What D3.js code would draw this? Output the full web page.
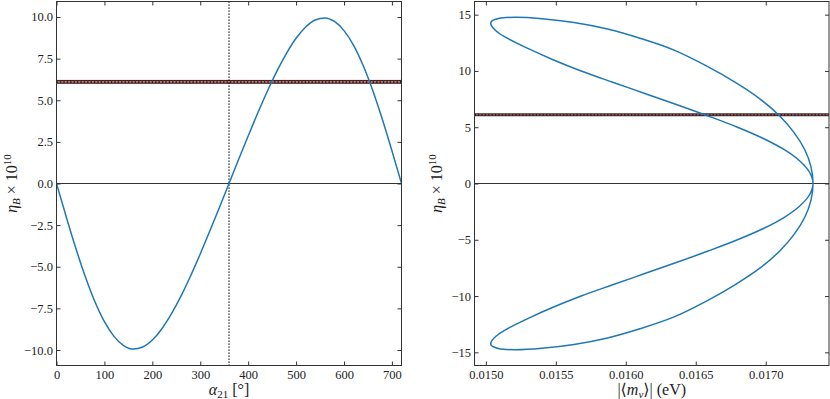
<!DOCTYPE html>
<html>
<head>
<meta charset="utf-8">
<script src="https://cdn.jsdelivr.net/npm/d3@7"></script>
<style>
  body { margin: 0; background: #fff; }
  svg { display: block; font-family: "Liberation Serif", "DejaVu Serif", serif; }
  .tick text { font-family: "Liberation Serif", "DejaVu Serif", serif; font-size: 12.5px; fill: #222; }
  .tick line { stroke: #333; }
</style>
</head>
<body>
<div id="chart"></div>
<script>
// left panel: eta_B vs alpha_21
const alphaDeg = [0, 20, 40, 60, 80, 100, 120, 140, 160, 180, 200, 220, 240, 260, 280, 300, 320, 340, 360,
  380, 400, 420, 440, 460, 480, 500, 520, 540, 560, 580, 600, 620, 640, 660, 680, 700, 720];
const etaVsAlpha = [0, -1.97, -3.86, -5.59, -7.09, -8.30, -9.18, -9.73, -9.94, -9.82, -9.40, -8.72, -7.82, -6.75, -5.54, -4.23, -2.85, -1.44, 0,
  1.44, 2.85, 4.23, 5.54, 6.75, 7.82, 8.72, 9.40, 9.82, 9.94, 9.73, 9.18, 8.30, 7.09, 5.59, 3.86, 1.97, 0];
const alphaMark = 360;

// right panel: eta_B vs |<m_nu>| (eV), one closed loop
// tip -> lower outer -> lower-left -> lower inner -> tip -> upper inner -> upper-left -> upper outer
const mNu = [
  0.017338, 0.017323, 0.017279, 0.017204, 0.017100, 0.016960, 0.016780, 0.016583, 0.016345, 0.016107,
  0.015869, 0.015630, 0.015400, 0.015210, 0.015090, 0.015040, 0.015036,
  0.015070, 0.015140, 0.015300, 0.015480, 0.015681, 0.015906, 0.016136, 0.016366, 0.016588, 0.016798,
  0.016983, 0.017133, 0.017243, 0.017313, 0.017338,
  0.017313, 0.017243, 0.017133, 0.016983, 0.016798, 0.016588, 0.016366, 0.016136, 0.015906, 0.015681,
  0.015480, 0.015300, 0.015140, 0.015070, 0.015036, 0.015040, 0.015090, 0.015210, 0.015400, 0.015630,
  0.015869, 0.016107, 0.016345, 0.016583, 0.016780, 0.016960, 0.017100, 0.017204, 0.017279, 0.017323
];
const etaVsM = [
  0, -1.5, -3, -4.5, -6, -7.5, -9, -10.4, -11.85, -12.88,
  -13.72, -14.3, -14.64, -14.77, -14.66, -14.4, -14.15,
  -13.6, -13, -12, -11, -10, -9, -8, -7, -6, -5,
  -4, -3, -2, -1, 0,
  1, 2, 3, 4, 5, 6, 7, 8, 9, 10,
  11, 12, 13, 13.6, 14.15, 14.4, 14.66, 14.77, 14.64, 14.3,
  13.72, 12.88, 11.85, 10.4, 9, 7.5, 6, 4.5, 3, 1.5
];

// observed eta_B band: low, central, high
const etaObs = [6.02, 6.1, 6.19];

const alphaTicks = [0, 100, 200, 300, 400, 500, 600, 700];
const etaTicksLeft = [-10, -7.5, -5, -2.5, 0, 2.5, 5, 7.5, 10];
const mTicks = [0.015, 0.0155, 0.016, 0.0165, 0.017];
const etaTicksRight = [-15, -10, -5, 0, 5, 10, 15];

const W = 830, H = 399;
const left = { x0: 56.5, x1: 401.5, y0: 1.5, y1: 365.5 };
const right = { x0: 474.5, x1: 829, y0: 1.5, y1: 365.5 };

const xL = d3.scaleLinear().domain([0, 720]).range([left.x0, left.x1]);
const yL = d3.scaleLinear().domain([-10.93, 10.93]).range([left.y1, left.y0]);
const xR = d3.scaleLinear().domain([0.014919, 0.017452]).range([right.x0, right.x1]);
const yR = d3.scaleLinear().domain([-16.17, 16.17]).range([right.y1, right.y0]);

const svg = d3
  .select("#chart")
  .append("svg")
  .attr("width", W)
  .attr("height", H);

function panel(box, x, y, id) {
  svg
    .append("clipPath")
    .attr("id", id)
    .append("rect")
    .attr("x", box.x0)
    .attr("y", box.y0)
    .attr("width", box.x1 - box.x0)
    .attr("height", box.y1 - box.y0);
  const g = svg.append("g").attr("clip-path", `url(#${id})`);

  // zero line
  g.append("line")
    .attr("x1", box.x0).attr("x2", box.x1)
    .attr("y1", y(0)).attr("y2", y(0))
    .attr("stroke", "#333").attr("stroke-width", 1);

  // observed band
  g.append("rect")
    .attr("x", box.x0)
    .attr("width", box.x1 - box.x0)
    .attr("y", y(etaObs[2]))
    .attr("height", y(etaObs[0]) - y(etaObs[2]))
    .attr("fill", "#e06666");
  [etaObs[0], etaObs[2]].forEach((v) => {
    g.append("line")
      .attr("x1", box.x0).attr("x2", box.x1)
      .attr("y1", y(v)).attr("y2", y(v))
      .attr("stroke", "#222").attr("stroke-width", 1);
  });
  g.append("line")
    .attr("x1", box.x0).attr("x2", box.x1)
    .attr("y1", y(etaObs[1])).attr("y2", y(etaObs[1]))
    .attr("stroke", "#111").attr("stroke-width", 1.4)
    .attr("stroke-dasharray", "1.4,2");
  return g;
}

function axes(box, x, y, xTicks, yTicks, xFmt, yFmt) {
  svg.append("g")
    .attr("transform", `translate(0,${box.y1})`)
    .call(d3.axisBottom(x).tickValues(xTicks).tickFormat(xFmt).tickSizeInner(-4).tickSizeOuter(0).tickPadding(5))
    .call((g) => g.select(".domain").remove());
  svg.append("g")
    .attr("transform", `translate(0,${box.y0})`)
    .call(d3.axisTop(x).tickValues(xTicks).tickFormat(() => "").tickSizeInner(-4).tickSizeOuter(0))
    .call((g) => g.select(".domain").remove());
  svg.append("g")
    .attr("transform", `translate(${box.x0},0)`)
    .call(d3.axisLeft(y).tickValues(yTicks).tickFormat(yFmt).tickSizeInner(-4).tickSizeOuter(0).tickPadding(3.5))
    .call((g) => g.select(".domain").remove());
  svg.append("g")
    .attr("transform", `translate(${box.x1},0)`)
    .call(d3.axisRight(y).tickValues(yTicks).tickFormat(() => "").tickSizeInner(-4).tickSizeOuter(0))
    .call((g) => g.select(".domain").remove());
  svg.append("rect")
    .attr("x", box.x0).attr("y", box.y0)
    .attr("width", box.x1 - box.x0).attr("height", box.y1 - box.y0)
    .attr("fill", "none").attr("stroke", "#333").attr("stroke-width", 1);
}

function yLabel(cx, cy) {
  const t = svg.append("text")
    .attr("transform", `translate(${cx},${cy}) rotate(-90)`)
    .attr("text-anchor", "middle")
    .style("font-size", "16px")
    .attr("fill", "#222");
  t.append("tspan").style("font-style", "italic").text("η");
  t.append("tspan").attr("dy", 3).style("font-size", "11px").style("font-style", "italic").text("B");
  t.append("tspan").attr("dy", -3).text(" × 10");
  t.append("tspan").attr("dy", -6).style("font-size", "11px").text("10");
}

// ---- left panel ----
const gL = panel(left, xL, yL, "clipL");
gL.append("line")
  .attr("x1", xL(alphaMark)).attr("x2", xL(alphaMark))
  .attr("y1", left.y0).attr("y2", left.y1)
  .attr("stroke", "#111").attr("stroke-width", 1.3)
  .attr("stroke-dasharray", "1.3,1.7");
gL.append("path")
  .datum(alphaDeg.map((a, i) => [a, etaVsAlpha[i]]))
  .attr("fill", "none")
  .attr("stroke", "#1f77b4")
  .attr("stroke-width", 1.5)
  .attr("d", d3.line().x((d) => xL(d[0])).y((d) => yL(d[1])).curve(d3.curveMonotoneX));
axes(left, xL, yL, alphaTicks, etaTicksLeft, d3.format("d"), d3.format(".1f"));

// ---- right panel ----
const gR = panel(right, xR, yR, "clipR");
gR.append("path")
  .datum(mNu.map((m, i) => [m, etaVsM[i]]))
  .attr("fill", "none")
  .attr("stroke", "#1f77b4")
  .attr("stroke-width", 1.5)
  .attr("d", d3.line().x((d) => xR(d[0])).y((d) => yR(d[1])).curve(d3.curveCatmullRomClosed.alpha(0.5)));
axes(right, xR, yR, mTicks, etaTicksRight, d3.format(".4f"), d3.format("d"));

// axis labels
const xl = svg.append("text")
  .attr("x", (left.x0 + left.x1) / 2).attr("y", 395)
  .attr("text-anchor", "middle").style("font-size", "16px").attr("fill", "#222");
xl.append("tspan").style("font-style", "italic").text("α");
xl.append("tspan").attr("dy", 3).style("font-size", "11px").text("21");
xl.append("tspan").attr("dy", -3).text(" [°]");

const xr = svg.append("text")
  .attr("x", (right.x0 + right.x1) / 2).attr("y", 395)
  .attr("text-anchor", "middle").style("font-size", "16px").attr("fill", "#222");
xr.append("tspan").text("|⟨");
xr.append("tspan").style("font-style", "italic").text("m");
xr.append("tspan").attr("dy", 3).style("font-size", "11px").style("font-style", "italic").text("ν");
xr.append("tspan").attr("dy", -3).text("⟩| (eV)");

yLabel(17, (left.y0 + left.y1) / 2);
yLabel(442, (right.y0 + right.y1) / 2);
</script>
</body>
</html>
